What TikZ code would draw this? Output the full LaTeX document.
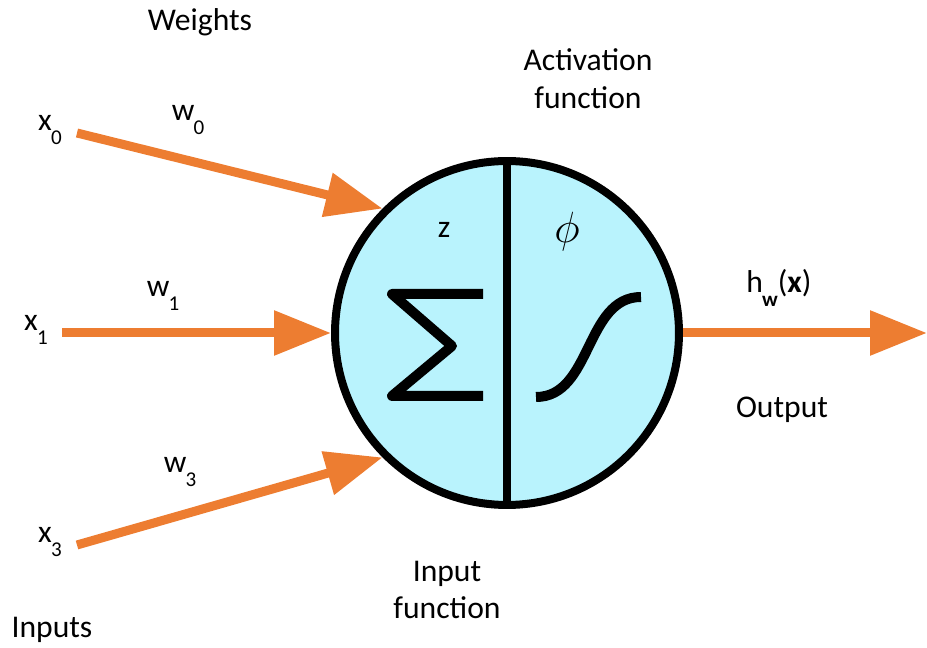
\documentclass[tikz,border=0pt]{standalone}
\usepackage{fontspec}
\setmainfont{Carlito}
\usepackage{tikz}
\usetikzlibrary{arrows.meta, positioning}
\definecolor{wire}{HTML}{ED7D31}
\definecolor{cell}{HTML}{B9F3FD}
\newcommand{\lowsub}[1]{\kern-0.5pt\raisebox{-0.9ex}{\fontsize{12}{12}\selectfont #1}}

\begin{document}
\begin{tikzpicture}[x=0.02cm, y=-0.02cm,
    txt/.style={font=\fontsize{18}{21.5}\selectfont, inner sep=0pt, align=center},
    signal/.style={draw=wire, line width=0.18cm, -{Triangle[length=1.14cm, width=0.86cm]}},
    neuron/.style={circle, draw=black, fill=cell, line width=0.16cm, minimum size=6.88cm, inner sep=0pt},
    glyph/.style={line width=0.2cm},
]
\useasboundingbox (0,0) rectangle (927,648);

\node[neuron] (cell) at (507,333) {};
\draw[line width=0.17cm] (cell.north) -- (cell.south);

% sum and activation glyphs
\draw[glyph, line join=round] (483,294) -- (392,294) -- (452,346) -- (392,396) -- (483,396);
\draw[glyph] (536,397) .. controls (592,397) and (585,297) .. (641,297);
\node[txt] (z) at (444,230) {z};
\node[txt, font=\fontsize{24}{24}\selectfont] (phi) at (567,232) {$\phi$};

% inputs
\node[txt] (x0) at (50,130) {x\lowsub{0}};
\node[txt] (x1) at (36,330) {x\lowsub{1}};
\node[txt] (x3) at (50,542) {x\lowsub{3}};
\node[txt] (w0) at (188,120) {w\lowsub{0}};
\node[txt] (w1) at (163,296) {w\lowsub{1}};
\node[txt] (w3) at (180,472) {w\lowsub{3}};

\coordinate (s0) at (77,133);
\coordinate (s1) at (62,333);
\coordinate (s3) at (77,545);
\coordinate (out) at (927,333);

\draw[signal] (s0) -- (cell.135);
\draw[signal] (s1) -- (cell.west);
\draw[signal] (s3) -- (cell.225);
\draw[signal] (cell.east) -- (out);

\node[txt] (hw) at (779,288) {h\lowsub{\textbf{w}}(\textbf{x})};
\node[txt] (output) at (782,410) {Output};
\node[txt] (weights) at (200,22) {Weights};
\node[txt] (act) at (588,79) {Activation\\function};
\node[txt] (infn) at (447,590) {Input\\function};
\node[txt] (inputs) at (52,630) {Inputs};

\end{tikzpicture}
\end{document}
